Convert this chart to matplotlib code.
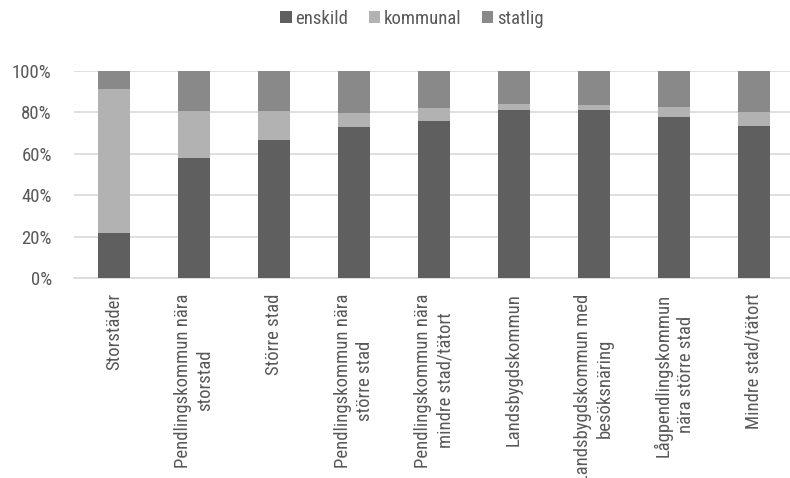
import matplotlib
matplotlib.use('Agg')
import matplotlib.pyplot as plt
import numpy as np
from matplotlib.patches import Patch

plt.rcParams['font.family'] = ['Roboto Condensed', 'DejaVu Sans']

categories = ['Storstäder',
              'Pendlingskommun nära\nstorstad',
              'Större stad',
              'Pendlingskommun nära\nstörre stad',
              'Pendlingskommun nära\nmindre stad/tätort',
              'Landsbygdskommun',
              'Landsbygdskommun med\nbesöksnäring',
              'Lågpendlingskommun\nnära större stad',
              'Mindre stad/tätort']
enskild = [21.7, 58.1, 66.8, 72.9, 75.9, 81.1, 81.1, 77.8, 73.5]
kommunal = [69.5, 22.8, 13.8, 6.9, 6.0, 2.8, 2.4, 4.7, 6.6]
statlig = [8.8, 19.1, 19.4, 20.2, 18.1, 16.1, 16.5, 17.5, 19.9]
series_names = ['enskild', 'kommunal', 'statlig']
colors = ['#5f5f5f', '#b2b2b2', '#898989']
text_col = '#595959'
fs = 13.5

fig = plt.figure(figsize=(7.9, 4.78), dpi=100)
ax = fig.add_axes([74 / 790, 200 / 478, 720 / 790, 207 / 478])

x = np.arange(len(categories))
bottom = np.zeros(len(categories))
for vals, col in zip([enskild, kommunal, statlig], colors):
    ax.bar(x, vals, 0.4, bottom=bottom, color=col, zorder=3)
    bottom += np.array(vals)

ax.set_xlim(-0.5, len(categories) - 0.5)
ax.set_ylim(0, 100)
ax.set_yticks([0, 20, 40, 60, 80, 100])
ax.set_yticklabels(['%d%%' % v for v in [0, 20, 40, 60, 80, 100]])
ax.yaxis.grid(True, color='#d9d9d9', linewidth=1.2, zorder=0)
ax.tick_params(axis='y', length=0, pad=16, labelsize=fs, labelcolor=text_col)
ax.tick_params(axis='x', length=0, pad=11)
ax.set_xticks(x)
ax.set_xticklabels(categories, rotation=90, ha='center', va='top',
                   multialignment='center', fontsize=fs, color=text_col,
                   linespacing=1.3)
for s in ['top', 'right', 'left']:
    ax.spines[s].set_visible(False)
ax.spines['bottom'].set_color('#d9d9d9')
ax.spines['bottom'].set_linewidth(1.2)

handles = [Patch(facecolor=c, label=n) for c, n in zip(colors, series_names)]
fig.legend(handles=handles, loc='center', bbox_to_anchor=(412 / 790, 1 - 19 / 478),
           ncol=3, frameon=False, fontsize=fs, labelcolor=text_col,
           handlelength=0.6, handleheight=0.6, handletextpad=0.2, columnspacing=1.1)

fig.savefig('out.png', dpi=100)
